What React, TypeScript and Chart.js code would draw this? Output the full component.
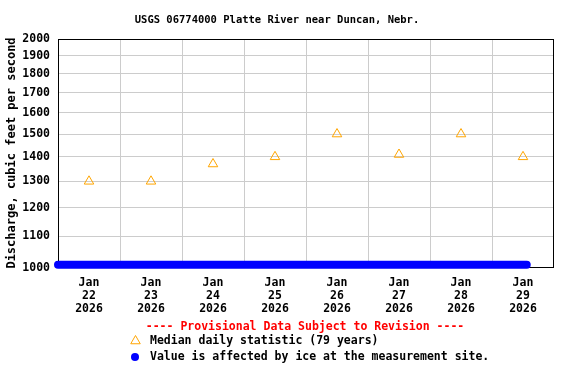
import React, { useEffect, useRef } from 'react';
import { Chart, registerables } from 'chart.js';
Chart.register(...registerables);

const chartTitle = 'USGS 06774000 Platte River near Duncan, Nebr.';
const yAxisTitle = 'Discharge, cubic feet per second';
const provisionalText = '---- Provisional Data Subject to Revision ----';
const medianLegend = 'Median daily statistic (79 years)';
const iceLegend = 'Value is affected by ice at the measurement site.';

// x in days since Jan 22 2026 00:00
const dayLabels = [
  ['Jan', '22', '2026'],
  ['Jan', '23', '2026'],
  ['Jan', '24', '2026'],
  ['Jan', '25', '2026'],
  ['Jan', '26', '2026'],
  ['Jan', '27', '2026'],
  ['Jan', '28', '2026'],
  ['Jan', '29', '2026'],
];
const dayCenters = [0.5, 1.5, 2.5, 3.5, 4.5, 5.5, 6.5, 7.5];
const dayBoundaries = [0, 1, 2, 3, 4, 5, 6, 7, 8];
const medianValues = [1300, 1300, 1370, 1400, 1500, 1410, 1500, 1400];
const iceTimes = [0, 1, 2, 3, 4, 5, 6, 7, 7.56];
const iceValues = [1010, 1010, 1010, 1010, 1010, 1010, 1010, 1010, 1010];
const yTicks = [1000, 1100, 1200, 1300, 1400, 1500, 1600, 1700, 1800, 1900, 2000];

const FONT = '"DejaVu Sans Mono", monospace';
const ORANGE = '#FFA500';
const BLUE = '#0000FF';
const GRID = '#CCCCCC';

function drawTriangle(ctx: CanvasRenderingContext2D, x: number, y: number, r: number) {
  const h = r * Math.sin(Math.PI / 3);
  ctx.beginPath();
  ctx.moveTo(x, y - r);
  ctx.lineTo(x + h, y + r / 2);
  ctx.lineTo(x - h, y + r / 2);
  ctx.closePath();
  ctx.stroke();
}

const decorPlugin = {
  id: 'decor',
  beforeDatasetsDraw(chart: any) {
    const { ctx, chartArea } = chart;
    ctx.save();
    ctx.strokeStyle = '#000';
    ctx.lineWidth = 1;
    ctx.strokeRect(
      Math.round(chartArea.left) + 0.5,
      Math.round(chartArea.top) + 0.5,
      Math.round(chartArea.right - chartArea.left) - 1,
      Math.round(chartArea.bottom - chartArea.top) - 1
    );
    ctx.restore();
  },
  afterDraw(chart: any) {
    const { ctx } = chart;
    ctx.save();
    ctx.fillStyle = '#000';
    ctx.textBaseline = 'middle';
    ctx.textAlign = 'center';
    ctx.font = `bold 10.5px ${FONT}`;
    ctx.fillText(chartTitle, 277, 20);

    ctx.font = `bold 12px ${FONT}`;
    ctx.save();
    ctx.translate(12, 153);
    ctx.rotate(-Math.PI / 2);
    ctx.fillText(yAxisTitle, 0, 0);
    ctx.restore();

    ctx.font = `bold 11.5px ${FONT}`;
    ctx.fillStyle = '#FF0000';
    ctx.fillText(provisionalText, 305, 327);

    ctx.textAlign = 'left';
    ctx.fillStyle = '#000';
    ctx.fillText(medianLegend, 150, 341);
    ctx.fillText(iceLegend, 150, 357);

    ctx.strokeStyle = ORANGE;
    ctx.lineWidth = 1;
    drawTriangle(ctx, 135.5, 341, 5.5);

    ctx.fillStyle = BLUE;
    ctx.beginPath();
    ctx.arc(135, 357, 4, 0, Math.PI * 2);
    ctx.fill();
    ctx.restore();
  },
};

export default function App() {
  const ref = useRef<HTMLCanvasElement>(null);
  useEffect(() => {
    if (!ref.current) return;
    const tickFont = { family: FONT, size: 11.5, weight: 'bold' as const, lineHeight: 1.1 };
    const chart = new Chart(ref.current, {
      type: 'scatter',
      data: {
        datasets: [
          {
            label: 'ice',
            data: iceTimes.map((t, i) => ({ x: t, y: iceValues[i] })),
            showLine: true,
            borderColor: BLUE,
            backgroundColor: BLUE,
            borderWidth: 8,
            borderCapStyle: 'round',
            pointRadius: 0,
            clip: false as any,
          } as any,
          {
            label: 'median',
            data: dayCenters.map((t, i) => ({ x: t, y: medianValues[i] })),
            showLine: false,
            pointStyle: 'triangle',
            pointRadius: 5.5,
            borderColor: ORANGE,
            backgroundColor: 'rgba(0,0,0,0)',
            borderWidth: 1,
          },
        ],
      },
      options: {
        animation: false,
        responsive: false,
        devicePixelRatio: 1,
        layout: { padding: { top: 39, right: 22, bottom: 0, left: 0 } },
        plugins: { legend: { display: false }, tooltip: { enabled: false }, title: { display: false } },
        scales: {
          x: {
            type: 'linear',
            min: 0,
            max: 8,
            afterBuildTicks: (s: any) => {
              s.ticks = [...dayBoundaries, ...dayCenters].sort((a, b) => a - b).map((v) => ({ value: v }));
            },
            afterFit: (s: any) => {
              s.height = 116;
            },
            grid: {
              drawTicks: false,
              color: (c: any) => {
                const v = c.tick?.value;
                return Number.isInteger(v) && v > 0 && v < 8 ? GRID : 'rgba(0,0,0,0)';
              },
            },
            border: { display: false },
            ticks: {
              autoSkip: false,
              maxRotation: 0,
              padding: 9,
              color: '#000',
              font: tickFont,
              callback: (v: any) => {
                const i = dayCenters.indexOf(Number(v));
                return i >= 0 ? dayLabels[i] : '';
              },
            },
          },
          y: {
            type: 'logarithmic',
            min: 1000,
            max: 2000,
            afterBuildTicks: (s: any) => {
              s.ticks = yTicks.map((v) => ({ value: v }));
            },
            afterFit: (s: any) => {
              s.width = 58;
            },
            grid: {
              drawTicks: false,
              color: (c: any) => {
                const v = c.tick?.value;
                return v > 1000 && v < 2000 ? GRID : 'rgba(0,0,0,0)';
              },
            },
            border: { display: false },
            ticks: {
              padding: 8,
              color: '#000',
              font: tickFont,
              autoSkip: false,
              callback: (v: any) => String(v),
            },
          },
        },
      },
      plugins: [decorPlugin],
    } as any);
    return () => chart.destroy();
  }, []);
  return (
    <div style={{ position: 'absolute', left: 0, top: 0, width: 576, height: 384, background: '#fff' }}>
      <canvas ref={ref} width={576} height={384} />
    </div>
  );
}
